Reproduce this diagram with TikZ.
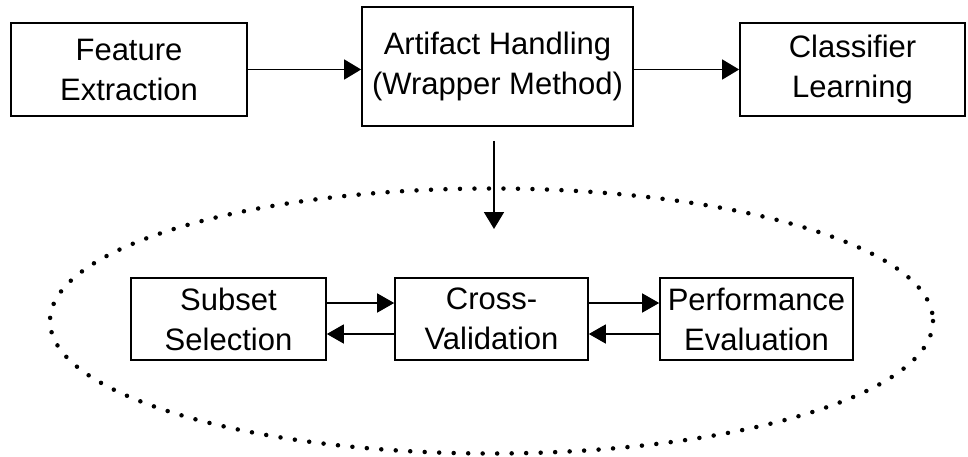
\documentclass[tikz,border=0pt]{standalone}
\usepackage{fontspec}
\setmainfont{Liberation Sans}
\usetikzlibrary{arrows.meta}

\tikzset{
    box/.style={draw, line width=1.8pt, align=center, inner sep=0pt,
        font=\fontsize{31}{40}\selectfont},
    flow/.style={-{Triangle[length=17pt, width=20pt]}, line width=1.8pt},
    loopline/.style={-{Triangle[length=17pt, width=19pt]}, line width=1.4pt}
}

\begin{document}
\begin{tikzpicture}[x=1pt, y=-1pt]
        % Define Variables
        \def\topW{236}
        \def\lowW{193}
        \def\lowH{82}
        \def\lowY{319}

        \useasboundingbox (0,0) rectangle (968,457);

        % Overall Scheme
        \node[box, minimum width=\topW, minimum height=93] at (129,69.5) (fe) {Feature\\Extraction};
        \node[box, minimum width=271, minimum height=119] at (497.5,66.5) (ah) {Artifact Handling\\(Wrapper Method)};
        \node[box, minimum width=225, minimum height=93] at (852.5,69.5) (cl) {Classifier\\Learning};
        \draw[flow] (fe.east) -- (fe.east -| ah.west);
        \draw[flow] (cl.west -| ah.east) -- (cl.west);

        % Wrapper Loop
        \draw[line width=4.5pt, line cap=round, dash pattern=on 0pt off 14.5pt] (491.5,321) ellipse [x radius=441.5, y radius=132.5];
        \coordinate (va) at (494,141);
        \coordinate (vb) at (494,229);
        \draw[flow] (va) -- (vb);

        \node[box, line width=1.6pt, minimum width=195, minimum height=\lowH] at (228.5,\lowY) (ss) {Subset\\Selection};
        \node[box, line width=1.6pt, minimum width=\lowW, minimum height=\lowH] at (491.5,\lowY) (cv) {Cross-\\Validation};
        \node[box, line width=1.6pt, minimum width=\lowW, minimum height=\lowH] at (756.5,\lowY) (pe) {Performance\\Evaluation};

        \draw[loopline] ([yshift=16]ss.east) -- ([yshift=16]cv.west);
        \draw[loopline] ([yshift=-15]cv.west) -- ([yshift=-15]ss.east);
        \draw[loopline] ([yshift=16]cv.east) -- ([yshift=16]pe.west);
        \draw[loopline] ([yshift=-15]pe.west) -- ([yshift=-15]cv.east);

    \end{tikzpicture}
\end{document}
